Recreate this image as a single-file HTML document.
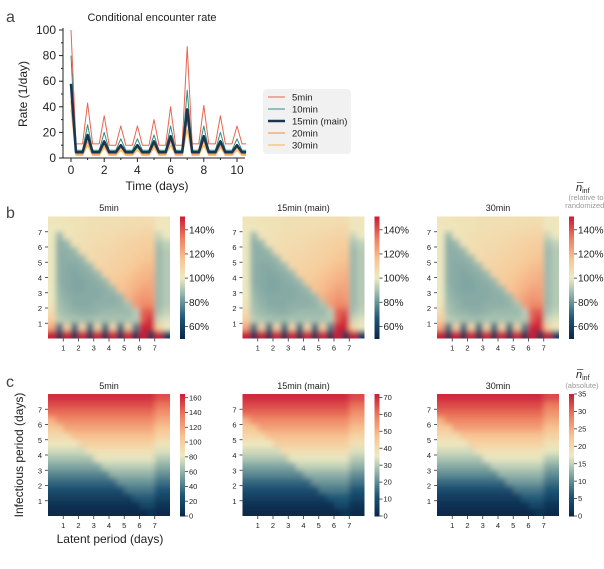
<!DOCTYPE html>
<html><head><meta charset="utf-8">
<style>
html,body{margin:0;padding:0;background:#fff;}
svg{display:block;font-family:"Liberation Sans","DejaVu Sans",sans-serif;}
</style></head>
<body>
<svg id="fig" width="604" height="569" viewBox="0 0 604 569" xmlns="http://www.w3.org/2000/svg">
<defs>
<filter id="blur" x="-10%" y="-10%" width="120%" height="120%"><feGaussianBlur stdDeviation="2.7"/></filter>
</defs>
</svg>
<script>
// ---------- Panel a data ----------
const days = [0,1,2,3,4,5,6,7,8,9,10];
const seriesNames = ["5min","10min","15min (main)","20min","30min"];
const peaks5 = [100,43,33,25,25,30,40,87,41,33,25];
const peaks10 = [80,26,20,15,15,18,25,53,25,20,15];
const peaks15 = [58,18,13,10,10,13,17,38,17,13,10];
const peaks20 = [45,13,10,8,8,10,13,30,13,10,8];
const peaks30 = [38,10,8,6,6,8,10,22,10,8,6];
const troughs5 = [11,11,10,10,10,10,10,11,11,11,11];
const troughs10 = [6,6,6,6,6,6,6,6,6,6,6];
const troughs15 = [4.5,4.5,4.5,4.5,4.5,4.5,4.5,4.5,4.5,4.5,4.5];
const troughs20 = [3,3,3,3,3,3,3,3,3,3,3];
const troughs30 = [2,2,2,2,2,2,2,2,2,2,2];
const yTicksA = [0,20,40,60,80,100];
const xTicksA = [0,2,4,6,8,10];

// ---------- Panel b data (relative %, rows top y=8 -> bottom y=0, cols x=0 -> 8) ----------
const bTitles = ["5min","15min (main)","30min"];
const bTicks = [60,80,100,120,140];
const bRange = [50,151];
const bGrid5 = [
[103,103,104,104,104,105,105,105,105,105,106,106,106,106,102,102],
[102,102,103,104,104,105,105,106,106,106,107,107,108,108,102,102],
[101,88,103,104,105,106,106,107,107,108,108,109,110,110,95,100],
[100,86,88,104,105,106,107,107,108,109,110,111,112,112,90,94],
[100,86,86,88,106,107,108,108,109,110,111,112,113,114,88,92],
[100,86,86,86,88,107,108,109,110,111,112,113,115,116,88,92],
[100,86,85,85,86,88,109,110,111,112,113,115,117,118,88,92],
[100,86,85,84,85,86,88,111,112,113,115,117,119,120,88,92],
[100,86,85,84,84,85,86,88,113,115,117,119,121,122,88,92],
[100,87,85,84,84,85,85,86,88,116,118,121,124,124,88,92],
[101,88,86,85,85,85,85,86,86,88,120,124,127,126,88,92],
[103,89,87,85,85,85,86,86,86,87,90,126,130,130,88,92],
[106,90,88,87,86,86,87,88,88,88,88,92,138,140,90,94],
[112,93,91,90,89,89,90,90,90,90,90,92,140,148,95,98],
[122,72,110,70,108,70,108,70,108,70,110,75,150,150,110,100],
[150,55,150,55,148,55,148,55,148,55,148,55,152,55,150,60]];
const bGrid15 = bGrid5.map(r=>r.slice());
const bGrid30 = bGrid5.map(r=>r.slice());

// ---------- Panel c data (absolute) ----------
const cTitles = ["5min","15min (main)","30min"];
const cTicks5 = [0,20,40,60,80,100,120,140,160];
const cTicks15 = [0,10,20,30,40,50,60,70];
const cTicks30 = [0,5,10,15,20,25,30,35];
const cMax = [165,72,35];
const cGrid5 = [
[160,160,160,160,160,160,160,160,160,160,160,160,160,160,150,150],
[150,150,150,150,150,150,150,150,150,150,150,150,150,150,138,138],
[140,140,140,140,140,140,140,140,140,140,140,140,140,140,128,128],
[115,130,130,130,130,130,130,130,130,130,130,130,130,130,118,118],
[105,105,120,120,120,120,120,120,120,120,120,120,120,120,108,108],
[95,95,95,110,110,110,110,110,110,110,110,110,110,110,98,98],
[85,85,85,85,100,100,100,100,100,100,100,100,100,100,88,88],
[75,75,75,75,75,90,90,90,90,90,90,90,90,90,78,78],
[65,65,65,65,65,65,80,80,80,80,80,80,80,80,68,68],
[55,55,55,55,55,55,55,70,70,70,70,70,70,70,58,58],
[45,45,45,45,45,45,45,45,60,60,60,60,60,60,48,48],
[35,35,35,35,35,35,35,35,35,50,50,50,50,50,38,38],
[25,25,25,25,25,25,25,25,25,25,40,40,40,40,28,28],
[15,15,15,15,15,15,15,15,15,15,15,30,30,30,18,18],
[7,7,7,7,7,7,7,7,7,7,7,7,20,20,9,9],
[2,2,2,2,2,2,2,2,2,2,2,2,2,8,3,3]];
const cGrid15 = [
[70,70,70,70,70,70,70,70,70,70,70,70,70,70,66,66],
[66,66,66,66,66,66,66,66,66,66,66,66,66,66,61,61],
[62,62,62,62,62,62,62,62,62,62,62,62,62,62,56,56],
[51,57,57,57,57,57,57,57,57,57,57,57,57,57,52,52],
[46,46,53,53,53,53,53,53,53,53,53,53,53,53,48,48],
[42,42,42,48,48,48,48,48,48,48,48,48,48,48,43,43],
[37,37,37,37,44,44,44,44,44,44,44,44,44,44,39,39],
[33,33,33,33,33,40,40,40,40,40,40,40,40,40,34,34],
[29,29,29,29,29,29,35,35,35,35,35,35,35,35,30,30],
[24,24,24,24,24,24,24,31,31,31,31,31,31,31,26,26],
[20,20,20,20,20,20,20,20,26,26,26,26,26,26,21,21],
[15,15,15,15,15,15,15,15,15,22,22,22,22,22,17,17],
[11,11,11,11,11,11,11,11,11,11,18,18,18,18,12,12],
[7,7,7,7,7,7,7,7,7,7,7,13,13,13,8,8],
[3,3,3,3,3,3,3,3,3,3,3,3,9,9,4,4],
[1,1,1,1,1,1,1,1,1,1,1,1,1,4,1,1]];
const cGrid30 = [
[34,34,34,34,34,34,34,34,34,34,34,34,34,34,32,32],
[32,32,32,32,32,32,32,32,32,32,32,32,32,32,29,29],
[30,30,30,30,30,30,30,30,30,30,30,30,30,30,27,27],
[24.5,28,28,28,28,28,28,28,28,28,28,28,28,28,25,25],
[22,22,26,26,26,26,26,26,26,26,26,26,26,26,23,23],
[20,20,20,23,23,23,23,23,23,23,23,23,23,23,21,21],
[18,18,18,18,21,21,21,21,21,21,21,21,21,21,19,19],
[16,16,16,16,16,19,19,19,19,19,19,19,19,19,17,17],
[14,14,14,14,14,14,17,17,17,17,17,17,17,17,14.5,14.5],
[12,12,12,12,12,12,12,15,15,15,15,15,15,15,12,12],
[10,10,10,10,10,10,10,10,13,13,13,13,13,13,10,10],
[7.5,7.5,7.5,7.5,7.5,7.5,7.5,7.5,7.5,11,11,11,11,11,8,8],
[5,5,5,5,5,5,5,5,5,5,8.5,8.5,8.5,8.5,6,6],
[3,3,3,3,3,3,3,3,3,3,3,6.5,6.5,6.5,4,4],
[1.5,1.5,1.5,1.5,1.5,1.5,1.5,1.5,1.5,1.5,1.5,1.5,4,4,2,2],
[0.5,0.5,0.5,0.5,0.5,0.5,0.5,0.5,0.5,0.5,0.5,0.5,0.5,2,0.6,0.6]];
const heatTicks = [1,2,3,4,5,6,7];

// ---------- rendering ----------
const NS="http://www.w3.org/2000/svg";
const svg=document.getElementById('fig');
function mk(tag,attrs,parent){const e=document.createElementNS(NS,tag);for(const k in attrs)e.setAttribute(k,attrs[k]);(parent||svg).appendChild(e);return e;}
function txt(s,x,y,size,anchor,parent,extra){const t=mk('text',Object.assign({x:x,y:y,'font-size':size,'text-anchor':anchor||'start',fill:'#222'},extra||{}),parent);t.textContent=s;return t;}

const stops=[[0,[8,38,72]],[0.17,[30,85,118]],[0.3,[105,148,152]],[0.4,[170,196,178]],[0.5,[238,234,194]],[0.65,[248,198,148]],[0.82,[238,128,96]],[1,[204,28,54]]];
function cmap(t){t=Math.max(0,Math.min(1,t));for(let i=1;i<stops.length;i++){if(t<=stops[i][0]){const a=stops[i-1],b=stops[i];const f=(t-a[0])/(b[0]-a[0]);const c=a[1].map((v,k)=>Math.round(v+f*(b[1][k]-v)));return `rgb(${c[0]},${c[1]},${c[2]})`;}}return 'rgb(204,28,54)';}

let e;
e=txt('a',6,22,16,'start',null,{fill:'#444'});

e=txt('b',6,218,16,'start',null,{fill:'#444'});

e=txt('c',6,387,16,'start',null,{fill:'#444'});


// ---- Panel a ----
const ax=t=>71+16.6*t, ay=v=>158-1.28*v;
const ga=mk('g',{});


e=txt('Conditional encounter rate',152,21,11,'middle',ga);

e=mk('line',{x1:63,y1:28,x2:63,y2:158,stroke:'#222','stroke-width':1},ga);

e=mk('line',{x1:63,y1:158,x2:245,y2:158,stroke:'#222','stroke-width':1},ga);

yTicksA.forEach(v=>{mk('line',{x1:59,y1:ay(v),x2:63,y2:ay(v),stroke:'#222'},ga);
  const t=txt(String(v),56,ay(v)+4,12,'end',ga);});
for(let v=10;v<100;v+=20){mk('line',{x1:61,y1:ay(v),x2:63,y2:ay(v),stroke:'#222'},ga);}
xTicksA.forEach(v=>{mk('line',{x1:ax(v),y1:158,x2:ax(v),y2:162,stroke:'#222'},ga);
  const t=txt(String(v),ax(v),174,12,'middle',ga);});
for(let v=1;v<=10;v+=2){mk('line',{x1:ax(v),y1:158,x2:ax(v),y2:160,stroke:'#222'},ga);}
e=txt('Time (days)',157,190,12,'middle',ga);

e=txt('Rate (1/day)',0,0,12,'middle',ga,{transform:'translate(27,94) rotate(-90)'});


const seriesPeaks=[peaks5,peaks10,peaks15,peaks20,peaks30];
const seriesTroughs=[troughs5,troughs10,troughs15,troughs20,troughs30];
const seriesColors=['#e8654f','#2e8f86','#1d3550','#f2a05e','#f3c46c'];
const seriesWidths=[1,1,2.6,1.3,1.3];
const drawOrder=[4,3,1,0,2];
drawOrder.forEach(s=>{
  const P=seriesPeaks[s],T=seriesTroughs[s];let d='';
  days.forEach((day,i)=>{
    d+=(i===0?'M':'L')+ax(day).toFixed(1)+','+ay(P[i]).toFixed(1);
    d+='L'+ax(day+0.3).toFixed(1)+','+ay(T[i]).toFixed(1);
    if(i<days.length-1)d+='L'+ax(day+0.7).toFixed(1)+','+ay(T[i]).toFixed(1);
    else d+='L'+ax(day+0.55).toFixed(1)+','+ay(T[i]).toFixed(1);
  });
  const p=mk('path',{d:d,fill:'none',stroke:seriesColors[s],'stroke-width':seriesWidths[s],'stroke-linejoin':'round'},ga);
  
  
});
const lg=mk('g',{},ga);


mk('rect',{x:263,y:89,width:88,height:65,rx:4,fill:'#f1f1f1'},lg);
seriesNames.forEach((n,i)=>{
  const y=97+i*12;
  const gi=mk('g',{},lg);
  
  
  mk('line',{x1:268,y1:y,x2:285,y2:y,stroke:seriesColors[i],'stroke-width':seriesWidths[i]},gi);
  txt(n,292,y+3.5,9.5,'start',gi);
});

// ---- Heatmaps ----
const colX=[48,242.5,437];
let clipId=0;
function heatmap(grid,x0,y0,norm,name){
  const g=mk('g',{});
  
  
  const W=122,H=122,nr=grid.length,nc=grid[0].length,cw=W/nc,ch=H/nr,pad=8;
  const id='clip'+(clipId++);
  const cp=mk('clipPath',{id:id},g);mk('rect',{x:x0,y:y0,width:W,height:H},cp);
  const inner=mk('g',{'clip-path':`url(#${id})`},g);
  const bl=mk('g',{filter:'url(#blur)'},inner);
  grid.forEach((row,r)=>row.forEach((v,c)=>{
    let x=x0+c*cw,y=y0+r*ch,w=cw+0.6,h=ch+0.6;
    if(c===0){x-=pad;w+=pad;} if(c===nc-1){w+=pad;}
    if(r===0){y-=pad;h+=pad;} if(r===nr-1){h+=pad;}
    const rc=mk('rect',{x:x.toFixed(2),y:y.toFixed(2),width:w.toFixed(2),height:h.toFixed(2),fill:cmap(norm(v))},bl);
    
    
  }));
  const sc=W/8;
  heatTicks.forEach(t=>{
    mk('line',{x1:x0+t*sc,y1:y0+H,x2:x0+t*sc,y2:y0+H+3,stroke:'#333','stroke-width':0.8},g);
    const a=txt(String(t),x0+t*sc,y0+H+12,7.5,'middle',g);
    mk('line',{x1:x0-3,y1:y0+H-t*sc,x2:x0,y2:y0+H-t*sc,stroke:'#333','stroke-width':0.8},g);
    const b=txt(String(t),x0-6,y0+H-t*sc+3,7.5,'end',g);
  });
  return g;
}
function colorbar(x0,y0,H,ticks,norm,fmt,fs,name){
  const g=mk('g',{});
  
  
  const n=60;
  for(let i=0;i<n;i++){mk('rect',{x:x0,y:(y0+H-(i+1)*H/n).toFixed(2),width:5,height:(H/n+0.5).toFixed(2),fill:cmap((i+0.5)/n)},g);}
  ticks.forEach(t=>{const y=y0+H-norm(t)*H;
    mk('line',{x1:x0+5,y1:y,x2:x0+8,y2:y,stroke:'#333','stroke-width':0.8},g);
    const a=txt(fmt(t),x0+9,y+fs*0.35,fs,'start',g);});
  return g;
}
const bGrids=[bGrid5,bGrid15,bGrid30];
const bNorm=v=>(v-bRange[0])/(bRange[1]-bRange[0]);
bGrids.forEach((gr,i)=>{
  heatmap(gr,colX[i],216.5,bNorm,'relative-heatmap-'+(i+1));
  const t=txt(bTitles[i],colX[i]+61,211,9,'middle');
  colorbar(colX[i]+132,216.5,122,bTicks,bNorm,v=>v+'%',10,'relative-colorbar-'+(i+1));
});
e=txt('',576,191,11,'start');
e.innerHTML='<tspan font-style="italic">n&#773;</tspan><tspan font-size="7" dy="2">inf</tspan>';

e=txt('(relative to',586,200,7.5,'middle',null,{fill:'#999'});

e=txt('randomized)',586,208,7.5,'middle',null,{fill:'#999'});


const cGrids=[cGrid5,cGrid15,cGrid30];
const cTickSets=[cTicks5,cTicks15,cTicks30];
cGrids.forEach((gr,i)=>{
  const norm=v=>v/cMax[i];
  heatmap(gr,colX[i],394,norm,'absolute-heatmap-'+(i+1));
  const t=txt(cTitles[i],colX[i]+61,389,9,'middle');
  colorbar(colX[i]+132,394,122,cTickSets[i],norm,v=>String(v),7.5,'absolute-colorbar-'+(i+1));
});
e=txt('',576,378,11,'start');
e.innerHTML='<tspan font-style="italic">n&#773;</tspan><tspan font-size="7" dy="2">inf</tspan>';

e=txt('(absolute)',582,388,7.5,'middle',null,{fill:'#999'});


e=txt('Infectious period (days)',0,0,12,'middle',null,{transform:'translate(23,455) rotate(-90)'});

e=txt('Latent period (days)',110,543,12,'middle');

</script>
</body></html>
